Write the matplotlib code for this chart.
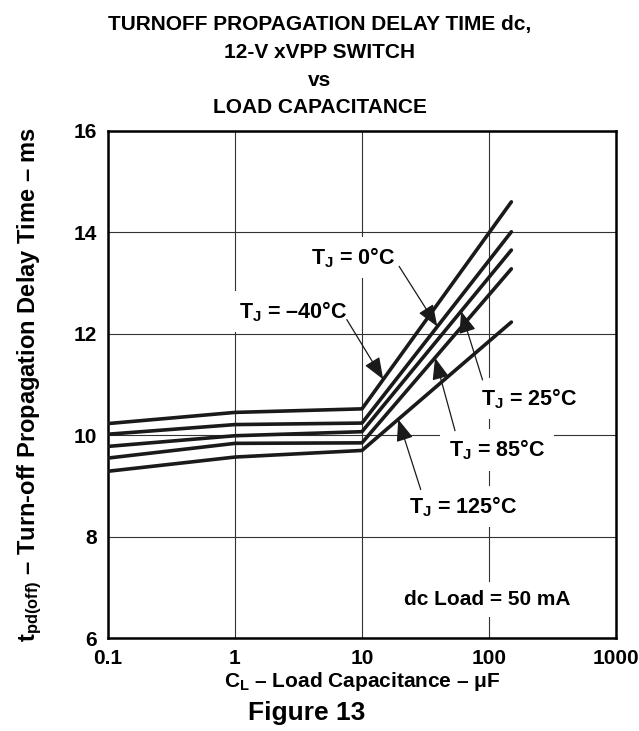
import numpy as np
import matplotlib
matplotlib.use("Agg")
import matplotlib.pyplot as plt

plt.rcParams["font.family"] = ["Liberation Sans", "DejaVu Sans"]
plt.rcParams["font.weight"] = "bold"
plt.rcParams["axes.labelweight"] = "bold"
plt.rcParams["mathtext.fontset"] = "custom"
plt.rcParams["mathtext.rm"] = "Liberation Sans:bold"
plt.rcParams["mathtext.it"] = "Liberation Sans:bold"
plt.rcParams["mathtext.bf"] = "Liberation Sans:bold"

# load capacitance (uF) and turn-off delay (ms) per junction temperature
cap = [0.1, 1, 10, 150]
tj_m40 = [10.23, 10.45, 10.52, 14.60]
tj_0 = [10.02, 10.21, 10.24, 14.01]
tj_25 = [9.78, 9.99, 10.07, 13.65]
tj_85 = [9.55, 9.84, 9.85, 13.28]
tj_125 = [9.29, 9.57, 9.70, 12.23]

series = [tj_m40, tj_0, tj_25, tj_85, tj_125]
labels = ["T$_J$ = \u201340\u00b0C", "T$_J$ = 0\u00b0C", "T$_J$ = 25\u00b0C",
          "T$_J$ = 85\u00b0C", "T$_J$ = 125\u00b0C"]

# label placement and arrow (tail, tip x) for each curve
label_pos = [(2.86, 12.44), (8.5, 13.50), (206, 10.72), (115.6, 9.71), (62.4, 8.59)]
arrow_tail = [(7.59, 12.28), (19.6, 13.33), (89, 11.09), (54, 10.09), (29, 8.93)]
arrow_tip_x = [14.7, 39.2, 60.3, 37.6, 19.3]

xticks = [0.1, 1, 10, 100, 1000]
xtick_labels = ["0.1", "1", "10", "100", "1000"]
yticks = [6, 8, 10, 12, 14, 16]

title_lines = ["TURNOFF PROPAGATION DELAY TIME dc,", "12-V xVPP SWITCH", "vs",
               "LOAD CAPACITANCE"]

fig = plt.figure(figsize=(6.39, 7.31), dpi=100)
ax = fig.add_axes([0.169, 0.127, 0.795, 0.694])

for s in series:
    ax.plot(cap, s, color="#1a1a1a", lw=2.6, solid_capstyle="round", zorder=4)

box = dict(fc="white", ec="none", pad=6)
for lab, (tx, ty), (ax0, ay0), tipx, s in zip(labels, label_pos, arrow_tail, arrow_tip_x, series):
    ax.text(tx, ty, lab, ha="center", va="center", fontsize=15.5, bbox=box, zorder=3)
    tipy = np.interp(np.log10(tipx), np.log10(cap), s)
    ax.annotate("", xy=(tipx, tipy), xytext=(ax0, ay0), zorder=5,
                arrowprops=dict(arrowstyle="-|>,head_length=0.9,head_width=0.35",
                                mutation_scale=15, lw=0.9, color="#1a1a1a",
                                shrinkA=0, shrinkB=0))

ax.text(96.4, 6.76, "dc Load = 50 mA", ha="center", va="center", fontsize=15,
        bbox=box, zorder=3)

ax.set_xscale("log")
ax.set_xlim(0.1, 1000)
ax.set_ylim(6, 16)
ax.set_xticks(xticks)
ax.set_xticklabels(xtick_labels)
ax.xaxis.set_minor_locator(matplotlib.ticker.NullLocator())
ax.set_yticks(yticks)
ax.tick_params(length=0, labelsize=15, pad=8)
ax.grid(True, color="#333333", lw=0.8, zorder=1)
ax.set_axisbelow(True)
for sp in ax.spines.values():
    sp.set_linewidth(1.8)

ax.set_xlabel("C$_L$ \u2013 Load Capacitance \u2013 \u03bcF", fontsize=15, labelpad=1)
ax.set_ylabel("t$_{pd(off)}$ \u2013 Turn-off Propagation Delay Time \u2013 ms",
              fontsize=17, labelpad=21)

for i, line in enumerate(title_lines):
    fig.text(0.5, 0.959 - i * 0.038, line, ha="center", va="baseline", fontsize=15)
fig.text(0.48, 0.015, "Figure 13", ha="center", va="baseline", fontsize=19)

fig.savefig("out.png", dpi=100)
